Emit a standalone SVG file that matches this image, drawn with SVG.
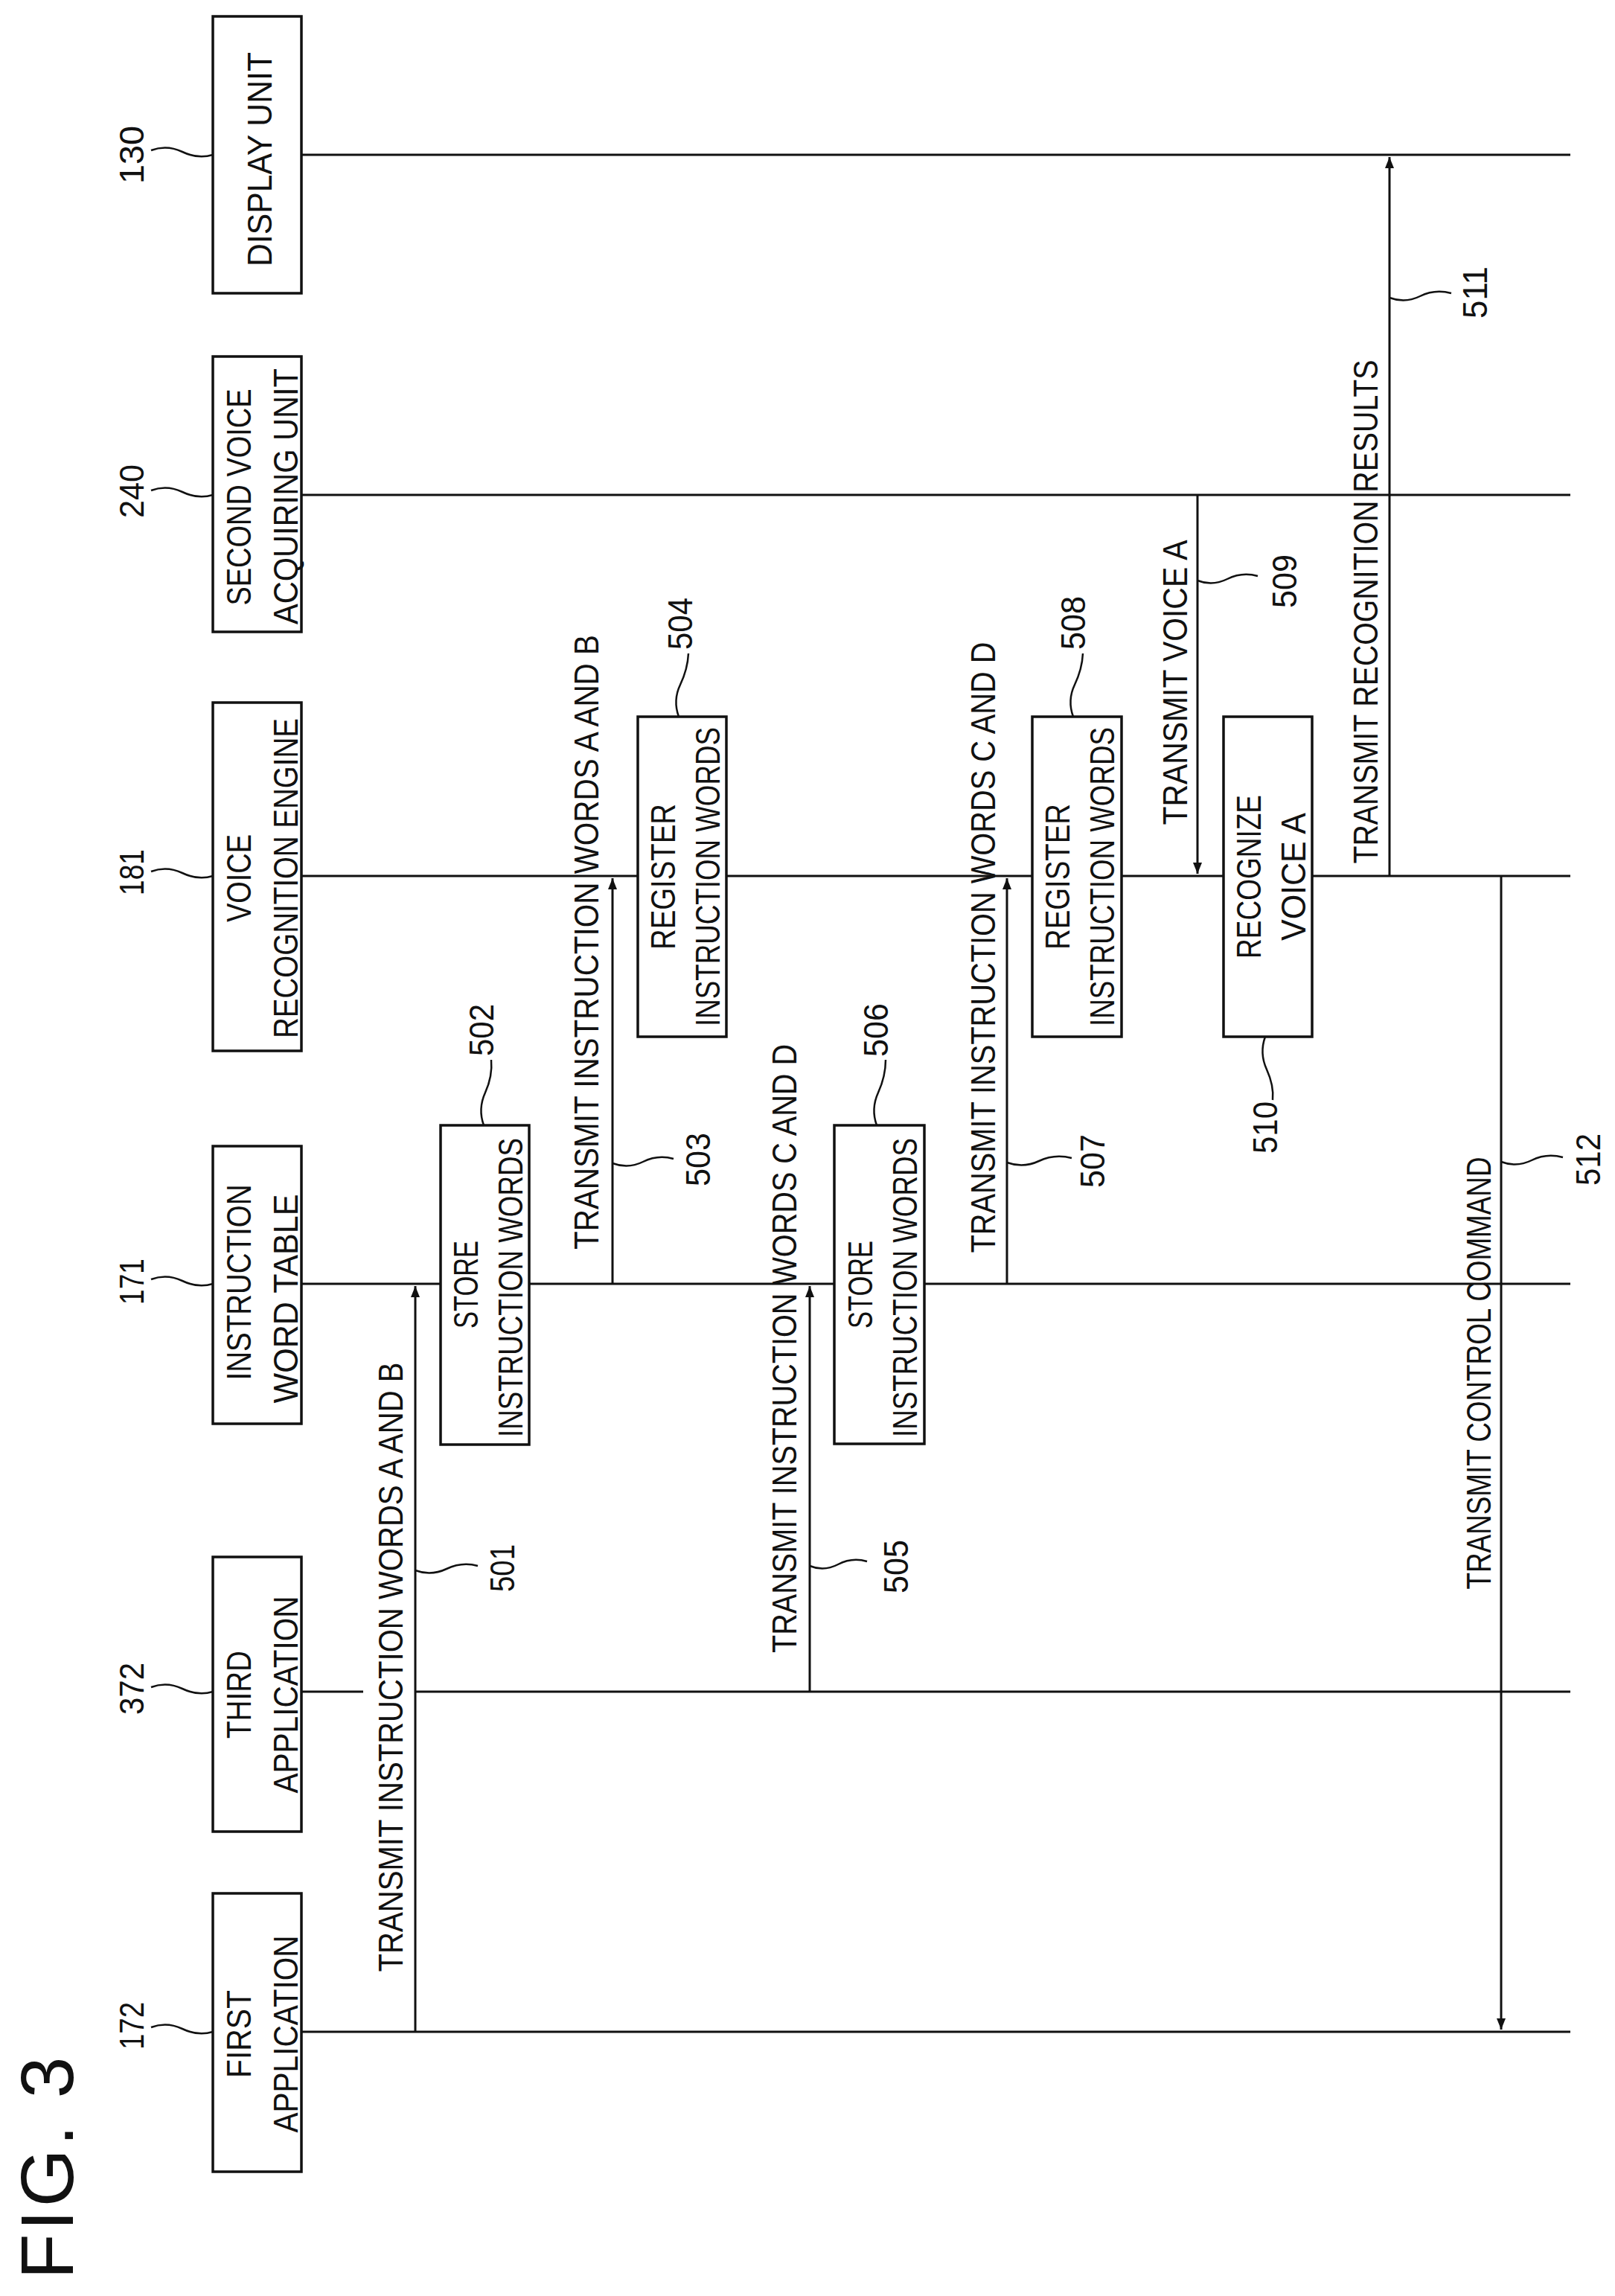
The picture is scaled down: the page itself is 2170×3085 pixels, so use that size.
<svg xmlns="http://www.w3.org/2000/svg" width="2170" height="3085" viewBox="0 0 2170 3085">
<style>
text{font-family:"Liberation Sans",Arial,sans-serif;font-size:46px;fill:#111;text-anchor:middle}
.fig{font-size:100px}
.box{fill:#fff;stroke:#111;stroke-width:3.5}
.ln{fill:none;stroke:#111;stroke-width:3}
.sq{fill:none;stroke:#111;stroke-width:2.5}
.ar{fill:none;stroke:#111;stroke-width:3;marker-end:url(#ah)}
</style>
<defs>
<marker id="ah" viewBox="0 0 10 10" refX="10" refY="5" markerWidth="5" markerHeight="5" orient="auto" markerUnits="strokeWidth">
<path d="M0,1 L10,5 L0,9 z" fill="#111"/>
</marker>
</defs>
<rect width="2170" height="3085" fill="#fff"/>
<text class="fig" transform="translate(98,2913) rotate(-90)" textLength="299" lengthAdjust="spacing">FIG. 3</text>

<g id="lifelines">
<path class="ln" d="M405,208H2110 M405,665H2110 M405,1177H2110 M405,1725H2110 M405,2273H488 M558,2273H2110 M405,2730H2110"/>
</g>

<g id="connectors">
<path class="ar" d="M558,2730V1728"/>
<path class="ar" d="M823,1725V1180"/>
<path class="ar" d="M1088,2273V1728"/>
<path class="ar" d="M1353,1725V1180"/>
<path class="ar" d="M1609,665V1174"/>
<path class="ar" d="M1867,1177V211"/>
<path class="ar" d="M2017,1177V2727"/>
<text transform="translate(541,2240) rotate(-90)" textLength="819" lengthAdjust="spacingAndGlyphs">TRANSMIT INSTRUCTION WORDS A AND B</text>
<text transform="translate(804,1266) rotate(-90)" textLength="826" lengthAdjust="spacingAndGlyphs">TRANSMIT INSTRUCTION WORDS A AND B</text>
<text transform="translate(1070,1812) rotate(-90)" textLength="818" lengthAdjust="spacingAndGlyphs">TRANSMIT INSTRUCTION WORDS C AND D</text>
<text transform="translate(1337,1273) rotate(-90)" textLength="821" lengthAdjust="spacingAndGlyphs">TRANSMIT INSTRUCTION WORDS C AND D</text>
<text transform="translate(1595,917) rotate(-90)" textLength="383" lengthAdjust="spacingAndGlyphs">TRANSMIT VOICE A</text>
<text transform="translate(1851,822) rotate(-90)" textLength="677" lengthAdjust="spacingAndGlyphs">TRANSMIT RECOGNITION RESULTS</text>
<text transform="translate(2003,1845) rotate(-90)" textLength="581" lengthAdjust="spacingAndGlyphs">TRANSMIT CONTROL COMMAND</text>
<path class="sq" d="M558,2110 Q579,2118 600,2108 T642,2104"/>
<text transform="translate(691,2107) rotate(-90)" textLength="64" lengthAdjust="spacingAndGlyphs">501</text>
<path class="sq" d="M823,1563 Q844,1571 864,1561 T905,1557"/>
<text transform="translate(954,1558) rotate(-90)" textLength="72" lengthAdjust="spacingAndGlyphs">503</text>
<path class="sq" d="M1088,2104 Q1107,2112 1126,2102 T1165,2098"/>
<text transform="translate(1220,2105) rotate(-90)" textLength="72" lengthAdjust="spacingAndGlyphs">505</text>
<path class="sq" d="M1353,1562 Q1375,1570 1396,1560 T1440,1556"/>
<text transform="translate(1484,1560) rotate(-90)" textLength="72" lengthAdjust="spacingAndGlyphs">507</text>
<path class="sq" d="M1609,780 Q1629,788 1649,778 T1690,774"/>
<text transform="translate(1742,781) rotate(-90)" textLength="72" lengthAdjust="spacingAndGlyphs">509</text>
<path class="sq" d="M1867,400 Q1888,408 1908,398 T1950,394"/>
<text transform="translate(1998,393) rotate(-90)" textLength="70" lengthAdjust="spacingAndGlyphs">511</text>
<path class="sq" d="M2017,1561 Q2038,1569 2058,1559 T2100,1555"/>
<text transform="translate(2150,1558) rotate(-90)" textLength="70" lengthAdjust="spacingAndGlyphs">512</text>
</g>

<g id="n130">
<rect class="box" x="286" y="22" width="119" height="372"/>
<text transform="translate(365,214) rotate(-90)" textLength="288" lengthAdjust="spacingAndGlyphs">DISPLAY UNIT</text>
<path class="sq" d="M203,202 Q224,194 245,204 T286,208"/>
<text transform="translate(193,208) rotate(-90)" textLength="78" lengthAdjust="spacingAndGlyphs">130</text>
</g>
<g id="n240">
<rect class="box" x="286" y="479" width="119" height="370"/>
<text transform="translate(337,668) rotate(-90)" textLength="291" lengthAdjust="spacingAndGlyphs">SECOND VOICE</text>
<text transform="translate(400,667) rotate(-90)" textLength="344" lengthAdjust="spacingAndGlyphs">ACQUIRING UNIT</text>
<path class="sq" d="M203,659 Q224,651 245,661 T286,665"/>
<text transform="translate(193,660) rotate(-90)" textLength="72" lengthAdjust="spacingAndGlyphs">240</text>
</g>
<g id="n181">
<rect class="box" x="286" y="944" width="119" height="468"/>
<text transform="translate(337,1180) rotate(-90)" textLength="118" lengthAdjust="spacingAndGlyphs">VOICE</text>
<text transform="translate(400,1180) rotate(-90)" textLength="430" lengthAdjust="spacingAndGlyphs">RECOGNITION ENGINE</text>
<path class="sq" d="M203,1171 Q224,1163 245,1173 T286,1177"/>
<text transform="translate(193,1172) rotate(-90)" textLength="62" lengthAdjust="spacingAndGlyphs">181</text>
</g>
<g id="n171">
<rect class="box" x="286" y="1540" width="119" height="373"/>
<text transform="translate(337,1723) rotate(-90)" textLength="263" lengthAdjust="spacingAndGlyphs">INSTRUCTION</text>
<text transform="translate(400,1745) rotate(-90)" textLength="281" lengthAdjust="spacingAndGlyphs">WORD TABLE</text>
<path class="sq" d="M203,1719 Q224,1711 245,1721 T286,1725"/>
<text transform="translate(193,1722) rotate(-90)" textLength="62" lengthAdjust="spacingAndGlyphs">171</text>
</g>
<g id="n372">
<rect class="box" x="286" y="2092" width="119" height="369"/>
<text transform="translate(337,2277) rotate(-90)" textLength="118" lengthAdjust="spacingAndGlyphs">THIRD</text>
<text transform="translate(400,2277) rotate(-90)" textLength="265" lengthAdjust="spacingAndGlyphs">APPLICATION</text>
<path class="sq" d="M203,2267 Q224,2259 245,2269 T286,2273"/>
<text transform="translate(193,2269) rotate(-90)" textLength="70" lengthAdjust="spacingAndGlyphs">372</text>
</g>
<g id="n172">
<rect class="box" x="286" y="2544" width="119" height="374"/>
<text transform="translate(337,2733) rotate(-90)" textLength="118" lengthAdjust="spacingAndGlyphs">FIRST</text>
<text transform="translate(400,2733) rotate(-90)" textLength="265" lengthAdjust="spacingAndGlyphs">APPLICATION</text>
<path class="sq" d="M203,2724 Q224,2716 245,2726 T286,2730"/>
<text transform="translate(193,2722) rotate(-90)" textLength="64" lengthAdjust="spacingAndGlyphs">172</text>
</g>

<g id="p502">
<rect class="box" x="592" y="1512" width="119" height="429"/>
<text transform="translate(642,1726) rotate(-90)" textLength="118" lengthAdjust="spacingAndGlyphs">STORE</text>
<text transform="translate(702,1730) rotate(-90)" textLength="402" lengthAdjust="spacingAndGlyphs">INSTRUCTION WORDS</text>
<path class="sq" d="M650,1512 Q642,1490 652,1468 T660,1424"/>
<text transform="translate(663,1384) rotate(-90)" textLength="70" lengthAdjust="spacingAndGlyphs">502</text>
</g>
<g id="p504">
<rect class="box" x="857" y="963" width="119" height="430"/>
<text transform="translate(907,1178) rotate(-90)" textLength="196" lengthAdjust="spacingAndGlyphs">REGISTER</text>
<text transform="translate(967,1178) rotate(-90)" textLength="402" lengthAdjust="spacingAndGlyphs">INSTRUCTION WORDS</text>
<path class="sq" d="M912,963 Q904,941 914,920 T925,878"/>
<text transform="translate(930,838) rotate(-90)" textLength="70" lengthAdjust="spacingAndGlyphs">504</text>
</g>
<g id="p506">
<rect class="box" x="1121" y="1512" width="121" height="428"/>
<text transform="translate(1172,1726) rotate(-90)" textLength="118" lengthAdjust="spacingAndGlyphs">STORE</text>
<text transform="translate(1232,1730) rotate(-90)" textLength="402" lengthAdjust="spacingAndGlyphs">INSTRUCTION WORDS</text>
<path class="sq" d="M1178,1512 Q1170,1490 1180,1468 T1190,1424"/>
<text transform="translate(1193,1384) rotate(-90)" textLength="72" lengthAdjust="spacingAndGlyphs">506</text>
</g>
<g id="p508">
<rect class="box" x="1387" y="963" width="120" height="430"/>
<text transform="translate(1437,1178) rotate(-90)" textLength="196" lengthAdjust="spacingAndGlyphs">REGISTER</text>
<text transform="translate(1497,1178) rotate(-90)" textLength="402" lengthAdjust="spacingAndGlyphs">INSTRUCTION WORDS</text>
<path class="sq" d="M1442,963 Q1434,941 1444,920 T1455,878"/>
<text transform="translate(1458,837) rotate(-90)" textLength="72" lengthAdjust="spacingAndGlyphs">508</text>
</g>
<g id="p510">
<rect class="box" x="1644" y="963" width="119" height="430"/>
<text transform="translate(1694,1178) rotate(-90)" textLength="220" lengthAdjust="spacingAndGlyphs">RECOGNIZE</text>
<text transform="translate(1754,1178) rotate(-90)" textLength="172" lengthAdjust="spacingAndGlyphs">VOICE A</text>
<path class="sq" d="M1700,1393 Q1692,1415 1702,1437 T1710,1478"/>
<text transform="translate(1716,1515) rotate(-90)" textLength="70" lengthAdjust="spacingAndGlyphs">510</text>
</g>
</svg>
